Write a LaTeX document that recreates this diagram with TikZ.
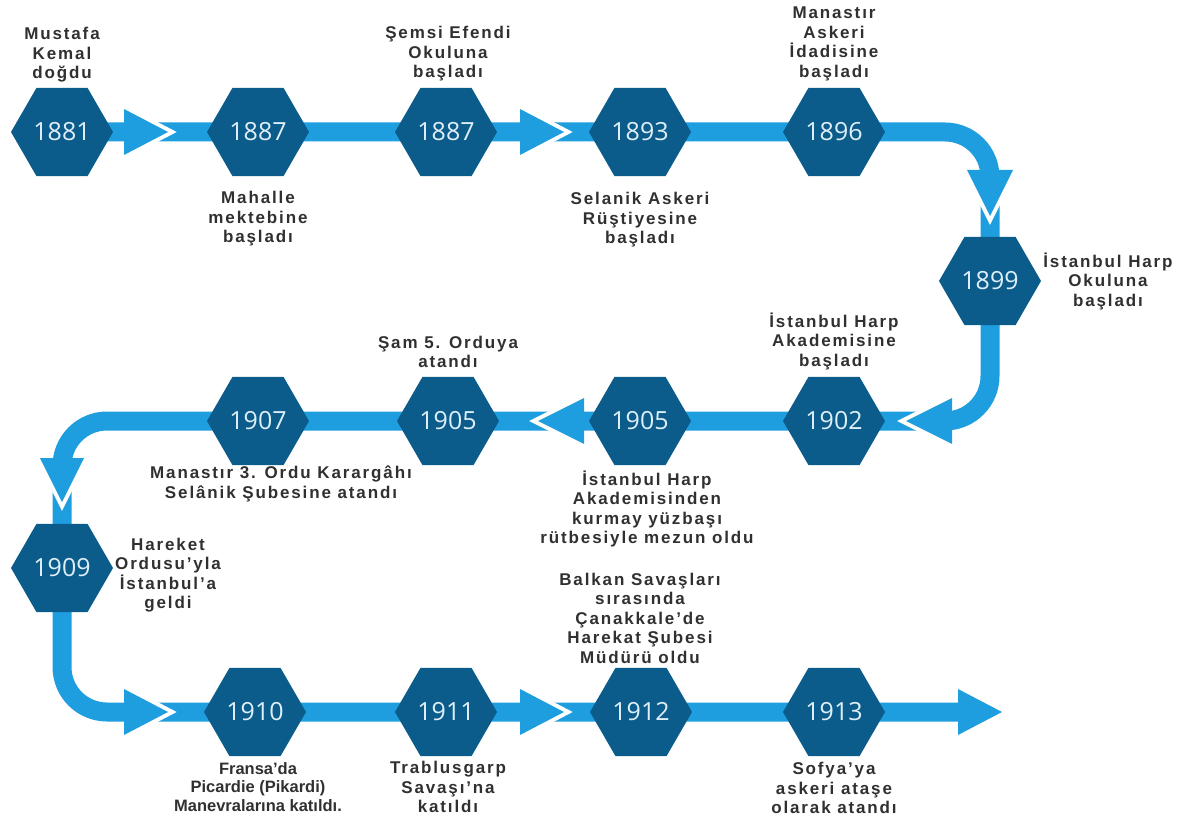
\documentclass[tikz,border=0pt]{standalone}
\usepackage{fontspec}
\setmainfont{Liberation Sans}
\newfontfamily\yearfont{Open Sans}
\usetikzlibrary{shapes.geometric}
\definecolor{hexblue}{RGB}{11,92,138}
\definecolor{barblue}{RGB}{30,158,222}
\definecolor{yeartext}{RGB}{222,239,249}
\definecolor{labeltext}{RGB}{48,48,48}
\newcommand\ahead[3]{%
  \draw[white,line width=8pt,line join=miter,miter limit=20] (#1) -- (#2) -- (#3);
  \fill[barblue] (#1) -- (#2) -- (#3) -- cycle;}
\begin{document}
\begin{tikzpicture}[x=1pt,y=-1pt,
  hex/.style={regular polygon, regular polygon sides=6, minimum size=102pt, inner sep=0pt,
    fill=hexblue, text=yeartext, font=\yearfont\fontsize{25}{25}\selectfont},
  lbl/.style={align=center, text=labeltext, inner sep=0pt,
    font=\bfseries\fontsize{17}{19.5}\selectfont\addfontfeature{LetterSpace=11}},
  lblnarrow/.style={align=center, text=labeltext, inner sep=0pt,
    font=\bfseries\fontsize{16.5}{18.5}\selectfont},
  bar/.style={draw=barblue, line width=19pt, rounded corners=45pt}]
\useasboundingbox (0,0) rectangle (1189,818);
% hex centres
\coordinate (c1881) at (62,132);
\coordinate (c1887a) at (258,132);
\coordinate (c1887b) at (446,132);
\coordinate (c1893) at (640,132);
\coordinate (c1896) at (834,132);
\coordinate (c1899) at (990,281);
\coordinate (c1902) at (834,421);
\coordinate (c1905a) at (640,421);
\coordinate (c1905b) at (448,421);
\coordinate (c1907) at (258,421);
\coordinate (c1909) at (62,568);
\coordinate (c1910) at (255,712);
\coordinate (c1911) at (446,712);
\coordinate (c1912) at (641,712);
\coordinate (c1913) at (834,712);
\coordinate (endpt) at (962,712);
% bars
\draw[bar] (c1881) -- (c1896) -- (c1896 -| c1899) -- (c1899);
\draw[bar] (c1899) -- (c1899 |- c1902) -- (c1909 |- c1902) -- (c1909);
\draw[bar] (c1909) -- (c1909 |- c1910) -- (endpt);
% arrowheads
\ahead{124,109}{168,132}{124,155}
\ahead{520,109}{564,132}{520,155}
\ahead{967,170}{990,216}{1013,170}
\ahead{952,398}{906,421}{952,444}
\ahead{584,398}{538,421}{584,444}
\ahead{40,458}{62,502}{84,458}
\ahead{124,689}{168,712}{124,735}
\ahead{520,689}{564,712}{520,735}
\fill[barblue] (958,689) -- (1002,712) -- (958,735) -- cycle;
% hexagons
\node[hex] (h1881) at (c1881) {1881};
\node[hex] (h1887a) at (c1887a) {1887};
\node[hex] (h1887b) at (c1887b) {1887};
\node[hex] (h1893) at (c1893) {1893};
\node[hex] (h1896) at (c1896) {1896};
\node[hex] (h1899) at (c1899) {1899};
\node[hex] (h1902) at (c1902) {1902};
\node[hex] (h1905a) at (c1905a) {1905};
\node[hex] (h1905b) at (c1905b) {1905};
\node[hex] (h1907) at (c1907) {1907};
\node[hex] (h1909) at (c1909) {1909};
\node[hex] (h1910) at (c1910) {1910};
\node[hex] (h1911) at (c1911) {1911};
\node[hex] (h1912) at (c1912) {1912};
\node[hex] (h1913) at (c1913) {1913};
% labels
\node[lbl] (l1881) at (62,55) {Mustafa\\Kemal\\doğdu};
\node[lbl] (l1887a) at (258,219) {Mahalle\\mektebine\\başladı};
\node[lbl] (l1887b) at (448,54) {Şemsi Efendi\\Okuluna\\başladı};
\node[lbl] (l1893) at (640,220) {Selanik Askeri\\Rüştiyesine\\başladı};
\node[lbl] (l1896) at (834,44) {Manastır\\Askeri\\İdadisine\\başladı};
\node[lbl] (l1899) at (1108,281) {İstanbul Harp\\Okuluna\\başladı};
\node[lbl] (l1902) at (834,341) {İstanbul Harp\\Akademisine\\başladı};
\node[lbl] (l1905b) at (448,352) {Şam 5. Orduya\\atandı};
\node[lbl] (l1905a) at (647,509) {İstanbul Harp\\Akademisinden\\kurmay yüzbaşı\\rütbesiyle mezun oldu};
\node[lbl] (l1907) at (281,484) {Manastır 3. Ordu Karargâhı\\Selânik Şubesine atandı};
\node[lbl] (l1909) at (168,575) {Hareket\\Ordusu’yla\\İstanbul’a\\geldi};
\node[lbl] (l1912) at (640,618) {Balkan Savaşları\\sırasında\\Çanakkale’de\\Harekat Şubesi\\Müdürü oldu};
\node[lblnarrow] (l1910) at (258,787) {Fransa’da\\Picardie (Pikardi)\\Manevralarına katıldı.};
\node[lbl] (l1911) at (448,787) {Trablusgarp\\Savaşı’na\\katıldı};
\node[lbl] (l1913) at (834,788) {Sofya’ya\\askeri ataşe\\olarak atandı};
\end{tikzpicture}
\end{document}
